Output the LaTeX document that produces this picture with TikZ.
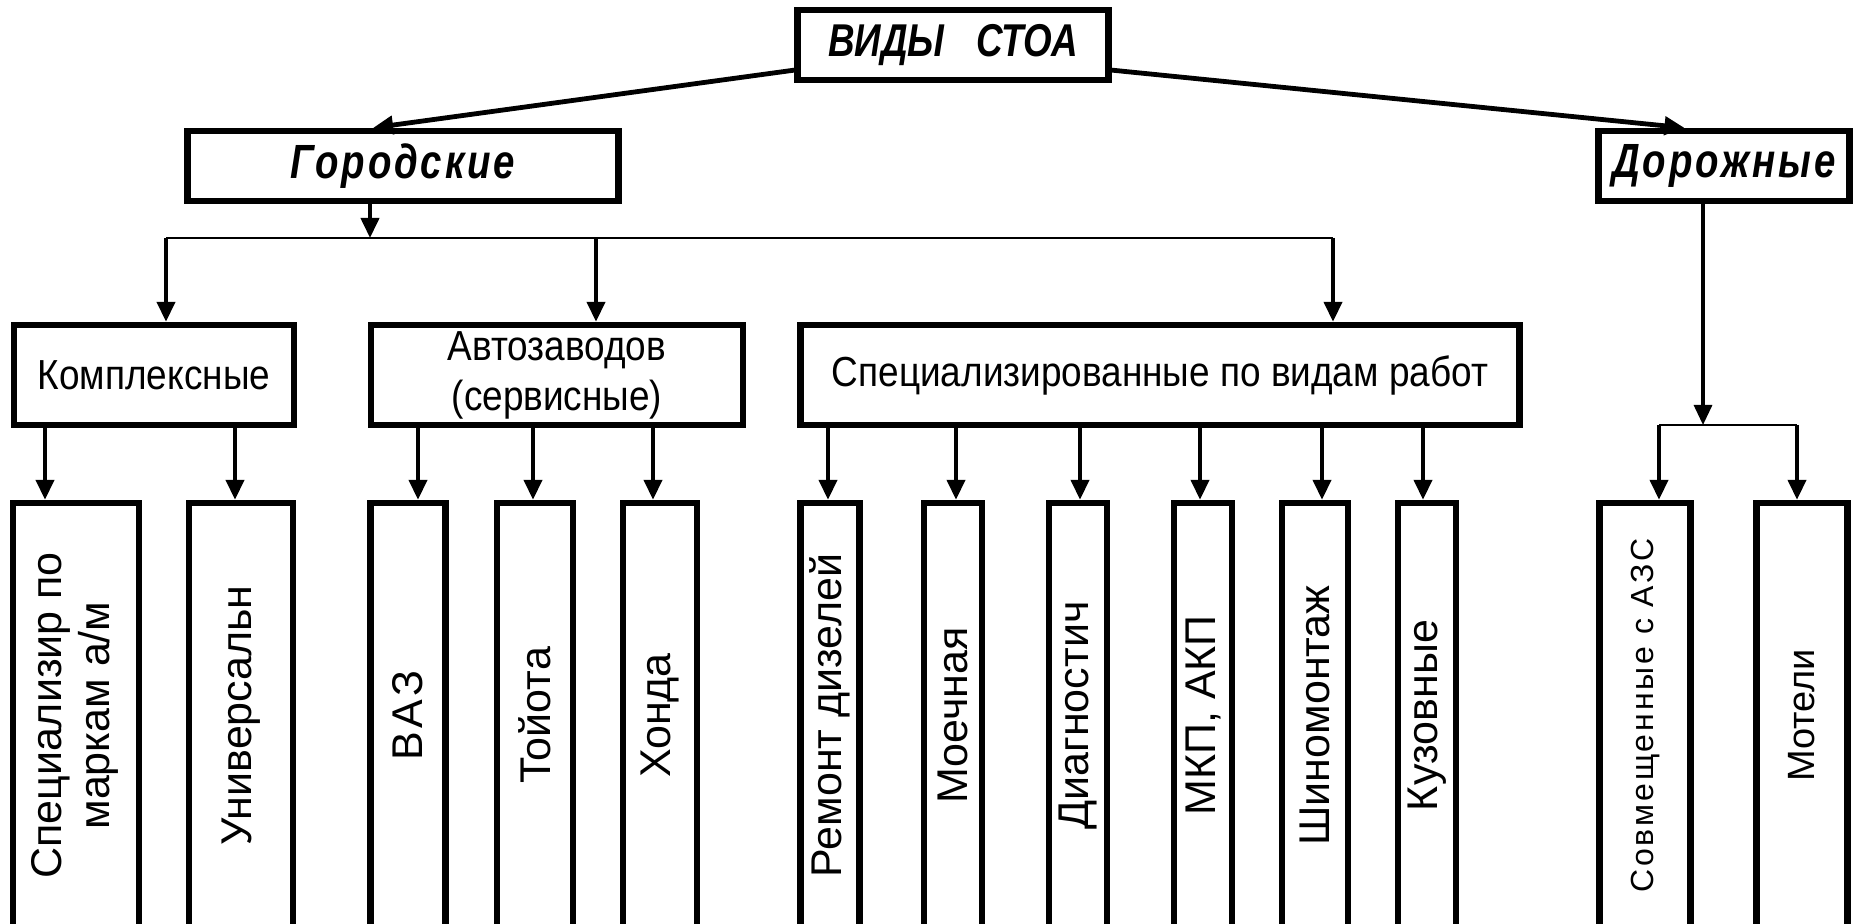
\documentclass[tikz,border=0pt]{standalone}
\usepackage{fontspec}
\setmainfont{Liberation Sans}
\newfontfamily\narrowfont[FakeStretch=0.88]{Liberation Sans}
\newfontfamily\titlefont[FakeStretch=0.8]{Liberation Sans}
\usetikzlibrary{arrows.meta, calc}
\newcommand\twoline[2]{\begin{tabular}{@{}c@{}}#1\\#2\end{tabular}}

\tikzset{
  box/.style={draw, line width=3.2pt, inner sep=0pt, align=center},
  topbox/.style={box, minimum height=35pt,
    font=\titlefont\bfseries\itshape\fontsize{23}{26}\selectfont},
  subbox/.style={box, minimum height=35pt,
    font=\titlefont\bfseries\itshape\fontsize{24}{26}\selectfont\addfontfeature{LetterSpace=6}},
  midbox/.style={box, minimum height=50pt, font=\narrowfont\fontsize{21}{25}\selectfont},
  leafbox/.style={box, minimum height=212.5pt, font=\fontsize{21.5}{24}\selectfont},
  arr/.style={-{Triangle[length=10pt, width=9pt]}, line width=2pt},
  bus/.style={line width=1pt},
}

\begin{document}
\begin{tikzpicture}[x=0.5pt, y=-0.5pt]
  \def\px{0.5pt}
  \useasboundingbox (0,0) rectangle (1853,924);
  \clip (0,0) rectangle (1853,924);
  % top level
  \node[topbox, minimum width=311*\px] (vidy) at (953,45) {ВИДЫ\hspace{0.7em}СТОА};
  \node[subbox, minimum width=431*\px] (gor) at (403,166) {Городские};
  \node[subbox, minimum width=251*\px] (dor) at (1724,166) {Дорожные};
  \draw[arr, line width=2.4pt] (vidy.189) -- (gor.128);
  \draw[arr, line width=2.4pt] (vidy.-9) -- (dor.136);
  % second level
  \foreach \nm/\x/\w/\txt in {kompl/154/280/Комплексные,
      avto/557/372/{Автозаводов\\(сервисные)},
      spec/1160/719/Специализированные по видам работ}
    \node[midbox, minimum width=\w*\px] (\nm) at (\x,375) {\txt};
  % bus under Городские
  \coordinate (gbus) at (370,238);
  \coordinate (busL) at (166,238);
  \coordinate (busM) at (596,238);
  \coordinate (busR) at (1333,238);
  \draw[bus] (busL) -- (busR);
  \draw[arr] (gor.south -| gbus) -- (gbus);
  \foreach \c/\nm in {busL/kompl, busM/avto, busR/spec}
    \draw[arr] (\c) -- (\c |- \nm.north);
  % bottom level
  \foreach \nm/\x/\w/\txt in {b1/76/126/{\twoline{Специализир по}{маркам а/м}},
      b2/241/104/Универсальн, b3/408/75/{\addfontfeature{LetterSpace=11}ВАЗ},
      b4/535/76/Тойота, b5/660/74/Хонда,
      b6/830/59/Ремонт дизелей, b7/953/58/Моечная, b8/1078/58/Диагностич,
      b9/1203/58/{МКП, АКП}, b10/1315/66/Шиномонтаж, b11/1427/58/Кузовные}
    \node[leafbox, minimum width=\w*\px] (\nm) at (\x,715.5) {\rotatebox{90}{\txt}};
  \node[leafbox, minimum width=91*\px, font=\fontsize{16}{18}\selectfont]
    (b12) at (1645,715.5) {\rotatebox{90}{\addfontfeature{LetterSpace=9}Совмещенные с АЗС}};
  \node[leafbox, minimum width=91*\px, font=\fontsize{19}{22}\selectfont]
    (b13) at (1802,715.5) {\rotatebox{90}{Мотели}};
  \foreach \p/\c/\d in {kompl/b1/-31, kompl/b2/-6, avto/b3/10, avto/b4/-2,
      avto/b5/-7, spec/b6/-2, spec/b7/3, spec/b8/2, spec/b9/-3, spec/b10/7, spec/b11/-4}
    \draw[arr] ($(\c.north |- \p.south)+(\d,0)$) -- ($(\c.north)+(\d,0)$);
  % Дорожные branch
  \coordinate (dbus) at (1703,425);
  \coordinate (dbusL) at (1659,425);
  \coordinate (dbusR) at (1797,425);
  \draw[arr, line width=1.6pt] (dor.south -| dbus) -- (dbus);
  \draw[bus] (dbusL) -- (dbusR);
  \draw[arr] (dbusL) -- (dbusL |- b12.north);
  \draw[arr] (dbusR) -- (dbusR |- b13.north);
\end{tikzpicture}
\end{document}
